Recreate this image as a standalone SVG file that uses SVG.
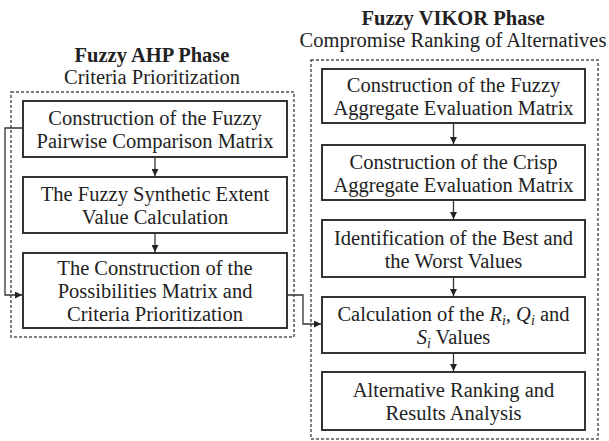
<svg xmlns="http://www.w3.org/2000/svg" width="609" height="441" viewBox="0 0 609 441">
<style>
text{font-family:"Liberation Serif","Times New Roman",serif;font-size:20.5px;fill:#222;text-anchor:middle}
.title{font-weight:bold}
.box{fill:#fff;stroke:#333;stroke-width:2}
.phase{fill:none;stroke:#555;stroke-width:1.5;stroke-dasharray:3 2}
.conn{fill:none;stroke:#333;stroke-width:1.3}
.it{font-style:italic}
</style>
<defs>
<marker id="arr" viewBox="0 0 10 10" refX="10" refY="5" markerWidth="7" markerHeight="7" markerUnits="userSpaceOnUse" orient="auto">
<path d="M0,0 L10,5 L0,10 z" fill="#222"/>
</marker>
</defs>
<rect width="609" height="441" fill="#fff"/>
<g id="phase-ahp">
<rect class="phase" x="11" y="92" width="283" height="245"/>
<text class="title" x="152" y="62">Fuzzy AHP Phase</text>
<text x="152" y="84">Criteria Prioritization</text>
</g>
<g id="phase-vikor">
<rect class="phase" x="311" y="60" width="287" height="379"/>
<text class="title" x="453" y="25">Fuzzy VIKOR Phase</text>
<text x="453" y="47">Compromise Ranking of Alternatives</text>
</g>
<g id="connectors">
<path class="conn" d="M155,157 V176" marker-end="url(#arr)"/>
<path class="conn" d="M155,233 V252" marker-end="url(#arr)"/>
<path class="conn" d="M23,128 H5 V295 H22" marker-end="url(#arr)"/>
<path class="conn" d="M287,295 H303 V324 H321" marker-end="url(#arr)"/>
<path class="conn" d="M453.5,123 V144" marker-end="url(#arr)"/>
<path class="conn" d="M453.5,200 V219" marker-end="url(#arr)"/>
<path class="conn" d="M453.5,277 V296" marker-end="url(#arr)"/>
<path class="conn" d="M453.5,353 V371" marker-end="url(#arr)"/>
</g>
<g id="ahp1">
<rect class="box" x="23" y="101" width="264" height="56"/>
<text x="155" y="125">Construction of the Fuzzy</text>
<text x="155" y="148">Pairwise Comparison Matrix</text>
</g>
<g id="ahp2">
<rect class="box" x="23" y="177" width="264" height="56"/>
<text x="155" y="201">The Fuzzy Synthetic Extent</text>
<text x="155" y="224">Value Calculation</text>
</g>
<g id="ahp3">
<rect class="box" x="23" y="253" width="264" height="75"/>
<text x="155" y="275">The Construction of the</text>
<text x="155" y="298">Possibilities Matrix and</text>
<text x="155" y="321">Criteria Prioritization</text>
</g>
<g id="vikor1">
<rect class="box" x="322" y="69" width="263" height="54"/>
<text x="453.5" y="92">Construction of the Fuzzy</text>
<text x="453.5" y="115">Aggregate Evaluation Matrix</text>
</g>
<g id="vikor2">
<rect class="box" x="322" y="145" width="263" height="55"/>
<text x="453.5" y="169">Construction of the Crisp</text>
<text x="453.5" y="192">Aggregate Evaluation Matrix</text>
</g>
<g id="vikor3">
<rect class="box" x="322" y="220" width="263" height="57"/>
<text x="453.5" y="245">Identification of the Best and</text>
<text x="453.5" y="268">the Worst Values</text>
</g>
<g id="vikor4">
<rect class="box" x="322" y="297" width="263" height="56"/>
<text x="453.5" y="321">Calculation of the <tspan class="it">R</tspan><tspan class="it" font-size="14" dy="4">i</tspan><tspan dy="-4">, </tspan><tspan class="it">Q</tspan><tspan class="it" font-size="14" dy="4">i</tspan><tspan dy="-4"> and</tspan></text>
<text x="453.5" y="344"><tspan class="it">S</tspan><tspan class="it" font-size="14" dy="4">i</tspan><tspan dy="-4"> Values</tspan></text>
</g>
<g id="vikor5">
<rect class="box" x="322" y="372" width="263" height="58"/>
<text x="453.5" y="397">Alternative Ranking and</text>
<text x="453.5" y="420">Results Analysis</text>
</g>
</svg>
